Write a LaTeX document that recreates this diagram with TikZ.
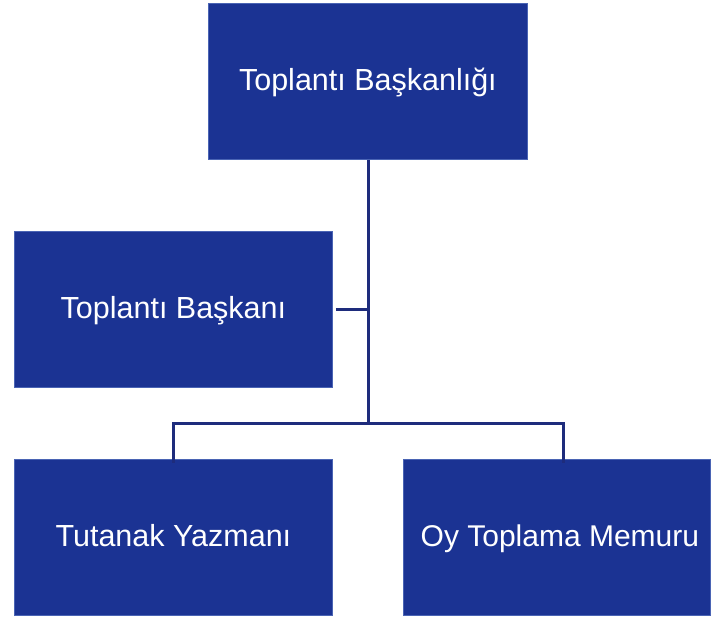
\documentclass[tikz,border=0pt]{standalone}
\usepackage{fontspec}
\setmainfont{Liberation Sans}
\definecolor{boxfill}{HTML}{1B3393}
\definecolor{boxedge}{HTML}{4A64B4}
\definecolor{linecol}{HTML}{1E2C7C}
\begin{document}
\begin{tikzpicture}[x=1pt,y=-1pt,
  orgbox/.style={draw=boxedge,line width=0.8pt,fill=boxfill,text=white,minimum width=#1,minimum height=156pt,inner sep=0pt,text height=23pt,text depth=5pt,font=\fontsize{30.5}{33}\selectfont,anchor=north west},
  conn/.style={draw=linecol,line width=3pt}]
\useasboundingbox (0,0) rectangle (711,617);
\node[orgbox=319pt] (top) at (208,3) {Toplantı Başkanlığı};
\node[orgbox=318pt] (chair) at (14,231) {Toplantı Başkanı};
\node[orgbox=318pt] (sec) at (14,459) {Tutanak Yazmanı};
\node[orgbox=307pt] (vote) at (403,459) {\hspace*{6pt}\fontsize{30}{33}\selectfont Oy Toplama Memuru};
\coordinate (spine) at (368,423);
\coordinate (lt) at (173,423);
\coordinate (rt) at (563,423);
\draw[conn] (top.south -| spine) -- (spine);
\draw[conn] ([xshift=3pt]chair.east) -- (chair.east -| spine);
\draw[conn,line cap=rect] (lt) -- (rt);
\draw[conn] (lt) -- ([yshift=-4pt]lt |- sec.north);
\draw[conn] (rt) -- ([yshift=-4pt]rt |- vote.north);
\end{tikzpicture}
\end{document}
